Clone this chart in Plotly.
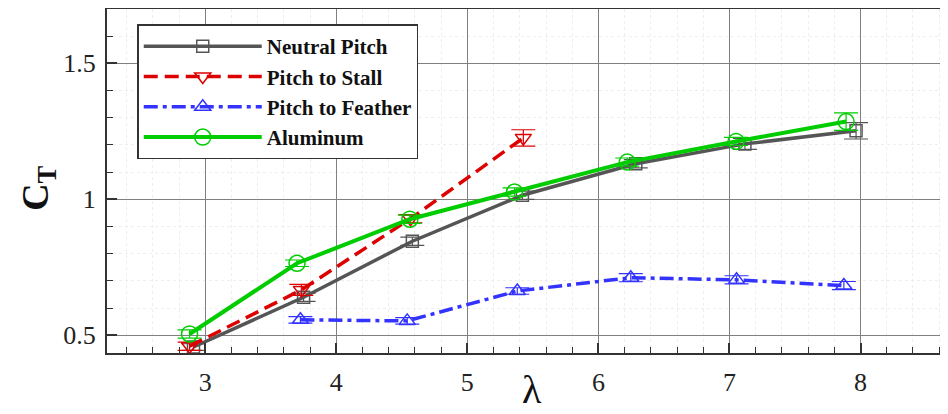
import plotly.graph_objects as go

# Data
np_x = [2.91, 3.75, 4.58, 5.42, 6.285, 7.118, 7.966]
np_y = [0.457, 0.640, 0.846, 1.015, 1.131, 1.204, 1.252]
np_e = [0.012, 0.015, 0.015, 0.015, 0.015, 0.02, 0.03]

ps_x = [2.88, 3.733, 4.566, 5.427]
ps_y = [0.460, 0.667, 0.929, 1.226]
ps_e = [0.015, 0.02, 0.015, 0.03]

pf_x = [3.726, 4.541, 5.381, 6.247, 7.054, 7.873]
pf_y = [0.557, 0.553, 0.663, 0.712, 0.704, 0.683]
pf_e = [0.012, 0.012, 0.012, 0.015, 0.015, 0.015]

al_x = [2.88, 3.70, 4.561, 5.36, 6.22, 7.05, 7.89]
al_y = [0.505, 0.765, 0.927, 1.027, 1.137, 1.213, 1.286]
al_e = [0.015, 0.012, 0.015, 0.015, 0.015, 0.015, 0.032]

x_ticks = [3, 4, 5, 6, 7, 8]
y_ticks = [0.5, 1, 1.5]
y_tick_text = ["0.5", "1", "1.5"]

series = [
    ("Neutral Pitch", np_x, np_y, np_e, "#555555", "solid", "square-open", 12, 3.5),
    ("Pitch to Stall", ps_x, ps_y, ps_e, "#dd0000", "14px,7px", "triangle-down-open", 14, 3.5),
    ("Pitch to Feather", pf_x, pf_y, pf_e, "#3333ff", "14px,5px,4px,5px", "triangle-up-open", 14, 3.5),
    ("Aluminum", al_x, al_y, al_e, "#00cc00", "solid", "circle-open", 16, 4),
]

fig = go.Figure()
for name, xs, ys, es, col, dash, sym, ms, lw in series:
    fig.add_trace(go.Scatter(
        x=xs, y=ys, name=name, mode="lines+markers",
        line=dict(color=col, width=lw, dash=dash),
        marker=dict(symbol=sym, size=ms, color=col, line=dict(color=col, width=1.5)),
        error_y=dict(type="data", array=es, visible=True, color=col, thickness=1.2, width=12),
    ))

serif = "Liberation Serif"

# page body has an 8px default margin, so the figure is sized to fill the rest
fig.update_layout(
    width=940, height=406,
    margin=dict(l=99, r=1, t=1, b=61),
    paper_bgcolor="white", plot_bgcolor="white",
    font=dict(family=serif, color="#222"),
    showlegend=True,
    legend=dict(
        x=0.036, y=0.955, xanchor="left", yanchor="top",
        bgcolor="white", bordercolor="#333", borderwidth=1.5,
        font=dict(family=serif, size=21, color="#111", weight="bold"),
        itemwidth=118, tracegroupgap=0,
    ),
    xaxis=dict(
        range=[2.25, 8.66], tickvals=x_ticks, ticktext=[str(v) for v in x_ticks],
        showline=True, linecolor="#333", linewidth=2, mirror=True,
        ticks="inside", ticklen=10, tickcolor="#333", tickwidth=1.5,
        showgrid=True, gridcolor="#808080", gridwidth=1, zeroline=False,
        tickfont=dict(size=26, family=serif, color="#222"),
        ticklabelstandoff=5,
        automargin=False,
        minor=dict(dtick=0.2, tick0=3, ticks="inside", ticklen=6, tickcolor="#333", tickwidth=1,
                   showgrid=True, gridcolor="#eeeeee", griddash="dot"),
    ),
    yaxis=dict(
        range=[0.435, 1.70], tickvals=y_ticks, ticktext=y_tick_text,
        showline=True, linecolor="#333", linewidth=2, mirror=True,
        ticks="inside", ticklen=10, tickcolor="#333", tickwidth=1.5,
        showgrid=True, gridcolor="#808080", gridwidth=1, zeroline=False,
        tickfont=dict(size=26, family=serif, color="#222"),
        ticklabelstandoff=4,
        automargin=False,
        minor=dict(dtick=0.1, tick0=0.5, ticks="inside", ticklen=6, tickcolor="#333", tickwidth=1,
                   showgrid=True, gridcolor="#eeeeee", griddash="dot"),
    ),
    annotations=[
        dict(text="λ", xref="paper", yref="paper", x=0.506, y=-0.035, xanchor="center", yanchor="top",
             showarrow=False, font=dict(size=40, family=serif, color="#111")),
        dict(text="<b>C<sub>T</sub></b>", xref="paper", yref="paper", x=-0.083, y=0.478,
             xanchor="center", yanchor="middle", textangle=-90,
             showarrow=False, font=dict(size=38, family=serif, color="#111")),
    ],
)

fig.write_html("out.html")
